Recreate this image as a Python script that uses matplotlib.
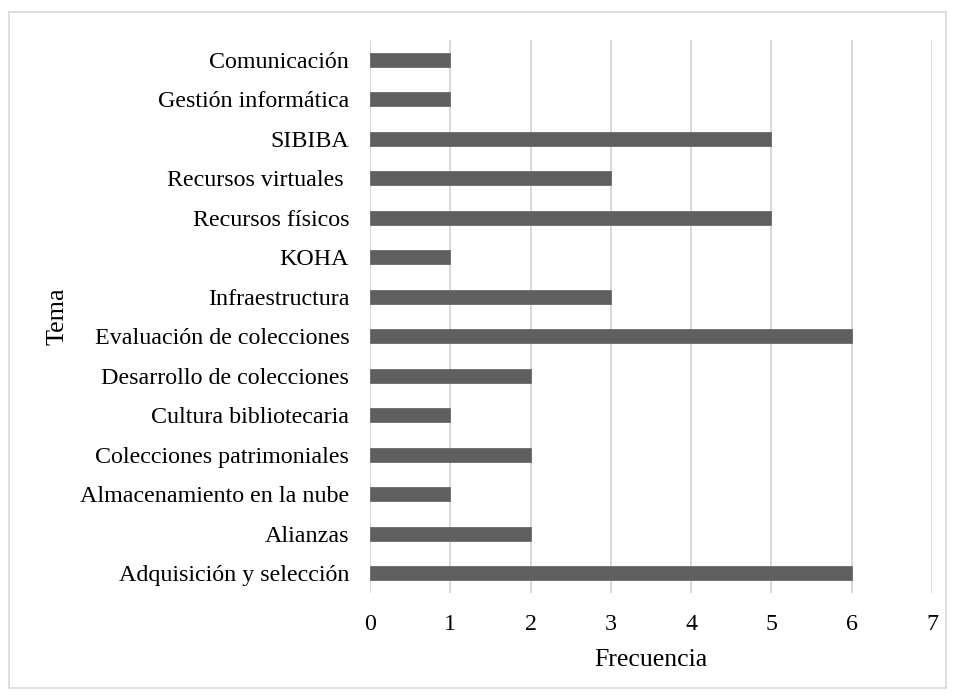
import matplotlib.pyplot as plt
from matplotlib.patches import Rectangle

temas = [
    "Adquisición y selección",
    "Alianzas",
    "Almacenamiento en la nube",
    "Colecciones patrimoniales",
    "Cultura bibliotecaria",
    "Desarrollo de colecciones",
    "Evaluación de colecciones",
    "Infraestructura",
    "KOHA",
    "Recursos físicos",
    "Recursos virtuales ",
    "SIBIBA",
    "Gestión informática",
    "Comunicación",
]
frecuencia = [6, 2, 1, 2, 1, 2, 6, 3, 1, 5, 3, 5, 1, 1]
x_ticks = [0, 1, 2, 3, 4, 5, 6, 7]

plt.rcParams['font.family'] = ['Liberation Serif', 'DejaVu Serif']

W, H = 956, 698
fig = plt.figure(figsize=(W / 100, H / 100), dpi=100)
ax = fig.add_axes([370 / W, 1 - 593 / H, (932 - 370) / W, (593 - 40) / H])

pos = list(range(len(temas)))
ax.barh(pos, frecuencia, height=0.36, color="#5f5f5f", edgecolor="#6a6a6a", linewidth=0.6, zorder=3)

ax.set_xlim(0, 7)
ax.set_ylim(-0.5, len(temas) - 0.5)
ax.set_xticks(x_ticks)
ax.set_xticklabels([str(t) for t in x_ticks])
ax.set_yticks(pos)
ax.set_yticklabels(temas)
ax.tick_params(axis="both", length=0, labelsize=17.3, colors="black")
ax.tick_params(axis="x", pad=15)
ax.tick_params(axis="y", pad=15)
ax.xaxis.grid(True, color="#d9d9d9", linewidth=1.4, zorder=0)
for s in ax.spines.values():
    s.set_visible(False)

fig.text(651 / W, 1 - 660 / H, "Frecuencia", fontsize=18.5, ha="center", va="center")
fig.text(57 / W, 1 - 316 / H, "Tema", fontsize=18.8, ha="center", va="center", rotation=90)

fig.patches.append(Rectangle((9 / W, 1 - 688 / H), (946 - 9) / W, (688 - 12) / H,
                             transform=fig.transFigure, fill=False,
                             edgecolor="#d9d9d9", linewidth=1.2))

fig.savefig("out.png", dpi=100)
